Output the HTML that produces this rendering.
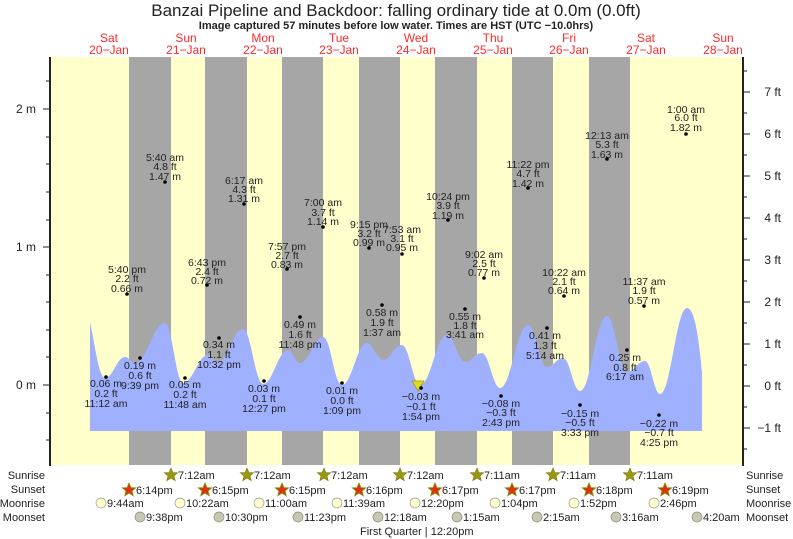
<!DOCTYPE html>
<html><head><meta charset="utf-8"><style>
html,body{margin:0;padding:0;background:#fff;}
svg{display:block;font-family:"Liberation Sans",sans-serif;}
</style></head><body>
<svg width="793" height="539" viewBox="0 0 793 539" xmlns="http://www.w3.org/2000/svg">
<defs>
<polygon id="st" points="0,-7 1.9,-2.4 6.7,-2.2 3,0.9 4.2,5.7 0,3 -4.2,5.7 -3,0.9 -6.7,-2.2 -1.9,-2.4"/>
</defs>
<rect x="50" y="57" width="693" height="408" fill="#ffffcc"/>
<g fill="#a6a6a6">
<rect x="129" y="57" width="42" height="408"/>
<rect x="205" y="57" width="42" height="408"/>
<rect x="282" y="57" width="41" height="408"/>
<rect x="359" y="57" width="41" height="408"/>
<rect x="435" y="57" width="42" height="408"/>
<rect x="512" y="57" width="41" height="408"/>
<rect x="589" y="57" width="41" height="408"/>
</g>
<path fill="#9fb0ff" d="M90,322 C95,345 99,378 105,378 C113,378 117,357 125,357 C129,357 131,363 135,363 C147,363 153,323 165,323 C172,323 176,383 183,383 C193,383 198,355 208,355 C212,355 214,362 218,362 C228,362 233,329 243,329 C251,329 255,384 263,384 C273,384 278,350 288,350 C293,350 295,363 300,363 C309,363 314,337 323,337 C331,337 334,385 342,385 C352,385 357,343 367,343 C373,343 377,360 383,360 C391,360 394,345 402,345 C409,345 413,385 420,385 C431,385 436,335 447,335 C454,335 458,362 465,362 C472,362 475,353 482,353 C489,353 493,388 500,388 C511,388 517,325 528,325 C536,325 539,367 547,367 C553,367 557,358 563,358 C570,358 573,391 580,391 C591,391 596,316 607,316 C615,316 619,372 627,372 C634,372 638,361 645,361 C651,361 654,394 660,394 C671,394 676,308 687,308 C695,308 699,340 702,372 L702,431 L90,431 Z"/>
<polygon points="412,381 424,381 418,391" fill="#dddd22" stroke="#999900" stroke-width="0.8"/>
<g stroke="#222" fill="none">
<line x1="50" y1="57" x2="50" y2="466" stroke-width="2"/>
<line x1="743" y1="57" x2="743" y2="466" stroke-width="2"/>
<path stroke-width="1" d="M43,109H50 M43,247H50 M43,385H50 M46,81H50 M46,137H50 M46,164H50 M46,192H50 M46,220H50 M46,275H50 M46,302H50 M46,330H50 M46,357H50 M46,413H50 M46,440H50"/>
<path stroke-width="1" d="M743,92H750 M743,134H750 M743,176H750 M743,218H750 M743,260H750 M743,302H750 M743,344H750 M743,386H750 M743,428H750 M743,71H747 M743,113H747 M743,155H747 M743,197H747 M743,239H747 M743,281H747 M743,323H747 M743,365H747 M743,407H747 M743,449H747"/>
</g>
<g font-size="12" fill="#222" text-anchor="end">
<text x="36" y="113">2 m</text><text x="36" y="251">1 m</text><text x="36" y="389">0 m</text>
<text x="781" y="96">7 ft</text><text x="781" y="138">6 ft</text><text x="781" y="180">5 ft</text><text x="781" y="222">4 ft</text><text x="781" y="264">3 ft</text><text x="781" y="306">2 ft</text><text x="781" y="348">1 ft</text><text x="781" y="390">0 ft</text><text x="781" y="432">−1 ft</text>
</g>
<text x="396" y="16" font-size="17" fill="#222" text-anchor="middle">Banzai Pipeline and Backdoor: falling  ordinary tide at 0.0m (0.0ft)</text>
<text x="396" y="29" font-size="11" font-weight="bold" fill="#222" text-anchor="middle">Image captured 57 minutes before low water. Times are HST (UTC −10.0hrs)</text>
<g font-size="12" fill="#ff2a2a" text-anchor="middle">
<text x="109" y="42">Sat</text><text x="109" y="54">20−Jan</text>
<text x="186" y="42">Sun</text><text x="186" y="54">21−Jan</text>
<text x="263" y="42">Mon</text><text x="263" y="54">22−Jan</text>
<text x="339" y="42">Tue</text><text x="339" y="54">23−Jan</text>
<text x="416" y="42">Wed</text><text x="416" y="54">24−Jan</text>
<text x="493" y="42">Thu</text><text x="493" y="54">25−Jan</text>
<text x="569" y="42">Fri</text><text x="569" y="54">26−Jan</text>
<text x="646" y="42">Sat</text><text x="646" y="54">27−Jan</text>
<text x="723" y="42">Sun</text><text x="723" y="54">28−Jan</text>
</g>
<g fill="#000">
<circle cx="106" cy="377" r="1.8"/><circle cx="140" cy="358" r="1.8"/><circle cx="185" cy="378" r="1.8"/><circle cx="219" cy="338" r="1.8"/><circle cx="264" cy="381" r="1.8"/><circle cx="300" cy="317" r="1.8"/><circle cx="342" cy="383" r="1.8"/><circle cx="382" cy="305" r="1.8"/><circle cx="421" cy="388" r="1.8"/><circle cx="465" cy="309" r="1.8"/><circle cx="501" cy="396" r="1.8"/><circle cx="547" cy="328" r="1.8"/><circle cx="580" cy="405" r="1.8"/><circle cx="627" cy="350" r="1.8"/><circle cx="659" cy="415" r="1.8"/>
<circle cx="127" cy="294" r="1.8"/><circle cx="165" cy="182" r="1.8"/><circle cx="207" cy="285" r="1.8"/><circle cx="244" cy="204" r="1.8"/><circle cx="287" cy="269" r="1.8"/><circle cx="323" cy="227" r="1.8"/><circle cx="369" cy="248" r="1.8"/><circle cx="402" cy="254" r="1.8"/><circle cx="448" cy="220" r="1.8"/><circle cx="484" cy="278" r="1.8"/><circle cx="528" cy="188" r="1.8"/><circle cx="564" cy="296" r="1.8"/><circle cx="607" cy="159" r="1.8"/><circle cx="644" cy="306" r="1.8"/><circle cx="686" cy="134" r="1.8"/>
</g>
<g font-size="10.5" fill="#222" text-anchor="middle">
<text x="106" y="387">0.06 m</text><text x="106" y="397">0.2 ft</text><text x="106" y="407">11:12 am</text>
<text x="140" y="369">0.19 m</text><text x="140" y="379">0.6 ft</text><text x="140" y="389">9:39 pm</text>
<text x="185" y="388">0.05 m</text><text x="185" y="398">0.2 ft</text><text x="185" y="408">11:48 am</text>
<text x="219" y="348">0.34 m</text><text x="219" y="358">1.1 ft</text><text x="219" y="368">10:32 pm</text>
<text x="264" y="392">0.03 m</text><text x="264" y="402">0.1 ft</text><text x="264" y="412">12:27 pm</text>
<text x="300" y="328">0.49 m</text><text x="300" y="338">1.6 ft</text><text x="300" y="348">11:48 pm</text>
<text x="342" y="394">0.01 m</text><text x="342" y="404">0.0 ft</text><text x="342" y="414">1:09 pm</text>
<text x="382" y="316">0.58 m</text><text x="382" y="326">1.9 ft</text><text x="382" y="336">1:37 am</text>
<text x="421" y="400">−0.03 m</text><text x="421" y="410">−0.1 ft</text><text x="421" y="420">1:54 pm</text>
<text x="465" y="320">0.55 m</text><text x="465" y="329">1.8 ft</text><text x="465" y="338">3:41 am</text>
<text x="501" y="407">−0.08 m</text><text x="501" y="416">−0.3 ft</text><text x="501" y="426">2:43 pm</text>
<text x="545" y="339">0.41 m</text><text x="545" y="349">1.3 ft</text><text x="545" y="359">5:14 am</text>
<text x="580" y="417">−0.15 m</text><text x="580" y="426">−0.5 ft</text><text x="580" y="436">3:33 pm</text>
<text x="625" y="361">0.25 m</text><text x="625" y="371">0.8 ft</text><text x="625" y="380">6:17 am</text>
<text x="659" y="427">−0.22 m</text><text x="659" y="436">−0.7 ft</text><text x="659" y="446">4:25 pm</text>
<text x="127" y="273">5:40 pm</text><text x="127" y="282">2.2 ft</text><text x="127" y="292">0.66 m</text>
<text x="165" y="161">5:40 am</text><text x="165" y="170">4.8 ft</text><text x="165" y="180">1.47 m</text>
<text x="207" y="266">6:43 pm</text><text x="207" y="275">2.4 ft</text><text x="207" y="284">0.72 m</text>
<text x="244" y="184">6:17 am</text><text x="244" y="193">4.3 ft</text><text x="244" y="202">1.31 m</text>
<text x="287" y="250">7:57 pm</text><text x="287" y="259">2.7 ft</text><text x="287" y="268">0.83 m</text>
<text x="323" y="206">7:00 am</text><text x="323" y="216">3.7 ft</text><text x="323" y="225">1.14 m</text>
<text x="369" y="228">9:15 pm</text><text x="369" y="237">3.2 ft</text><text x="369" y="246">0.99 m</text>
<text x="402" y="233">7:53 am</text><text x="402" y="242">3.1 ft</text><text x="402" y="251">0.95 m</text>
<text x="448" y="200">10:24 pm</text><text x="448" y="209">3.9 ft</text><text x="448" y="219">1.19 m</text>
<text x="484" y="258">9:02 am</text><text x="484" y="267">2.5 ft</text><text x="484" y="276">0.77 m</text>
<text x="528" y="168">11:22 pm</text><text x="528" y="177">4.7 ft</text><text x="528" y="187">1.42 m</text>
<text x="564" y="276">10:22 am</text><text x="564" y="285">2.1 ft</text><text x="564" y="294">0.64 m</text>
<text x="607" y="139">12:13 am</text><text x="607" y="148">5.3 ft</text><text x="607" y="158">1.63 m</text>
<text x="644" y="285">11:37 am</text><text x="644" y="294">1.9 ft</text><text x="644" y="304">0.57 m</text>
<text x="686" y="113">1:00 am</text><text x="686" y="121">6.0 ft</text><text x="686" y="131">1.82 m</text>
</g>
<g font-size="11" fill="#222">
<g text-anchor="end"><text x="45" y="479">Sunrise</text><text x="45" y="493">Sunset</text><text x="45" y="507">Moonrise</text><text x="45" y="521">Moonset</text></g>
<text x="746" y="479">Sunrise</text><text x="746" y="493">Sunset</text><text x="746" y="507">Moonrise</text><text x="746" y="521">Moonset</text>
</g>
<g fill="#999911" stroke="#777700" stroke-width="0.6">
<use href="#st" x="171" y="475"/><use href="#st" x="247" y="475"/><use href="#st" x="324" y="475"/><use href="#st" x="400" y="475"/><use href="#st" x="477" y="475"/><use href="#st" x="553" y="475"/><use href="#st" x="630" y="475"/>
</g>
<g fill="#dd3311" stroke="#888800" stroke-width="0.8">
<use href="#st" x="129" y="490"/><use href="#st" x="205" y="490"/><use href="#st" x="282" y="490"/><use href="#st" x="359" y="490"/><use href="#st" x="435" y="490"/><use href="#st" x="512" y="490"/><use href="#st" x="589" y="490"/><use href="#st" x="665" y="490"/>
</g>
<g fill="#ffffcc" stroke="#999" stroke-width="0.7">
<circle cx="101" cy="503" r="5"/><circle cx="180" cy="503" r="5"/><circle cx="259" cy="503" r="5"/><circle cx="337" cy="503" r="5"/><circle cx="415" cy="503" r="5"/><circle cx="495" cy="503" r="5"/><circle cx="574" cy="503" r="5"/><circle cx="654" cy="503" r="5"/>
</g>
<g fill="#c8c8b0" stroke="#888" stroke-width="0.7">
<circle cx="140" cy="517" r="5"/><circle cx="219" cy="517" r="5"/><circle cx="298" cy="517" r="5"/><circle cx="378" cy="517" r="5"/><circle cx="457" cy="517" r="5"/><circle cx="537" cy="517" r="5"/><circle cx="616" cy="517" r="5"/><circle cx="697" cy="517" r="5"/>
</g>
<g font-size="11" fill="#222">
<text x="178" y="479">7:12am</text><text x="254" y="479">7:12am</text><text x="331" y="479">7:12am</text><text x="407" y="479">7:12am</text><text x="484" y="479">7:11am</text><text x="560" y="479">7:11am</text><text x="637" y="479">7:11am</text>
<text x="136" y="494">6:14pm</text><text x="212" y="494">6:15pm</text><text x="289" y="494">6:15pm</text><text x="366" y="494">6:16pm</text><text x="442" y="494">6:17pm</text><text x="519" y="494">6:17pm</text><text x="596" y="494">6:18pm</text><text x="672" y="494">6:19pm</text>
<text x="107" y="507">9:44am</text><text x="186" y="507">10:22am</text><text x="265" y="507">11:00am</text><text x="343" y="507">11:39am</text><text x="421" y="507">12:20pm</text><text x="501" y="507">1:04pm</text><text x="580" y="507">1:52pm</text><text x="660" y="507">2:46pm</text>
<text x="146" y="521">9:38pm</text><text x="225" y="521">10:30pm</text><text x="304" y="521">11:23pm</text><text x="384" y="521">12:18am</text><text x="463" y="521">1:15am</text><text x="543" y="521">2:15am</text><text x="622" y="521">3:16am</text><text x="703" y="521">4:20am</text>
<text x="360" y="535">First Quarter | 12:20pm</text>
</g>
</svg>
</body></html>
